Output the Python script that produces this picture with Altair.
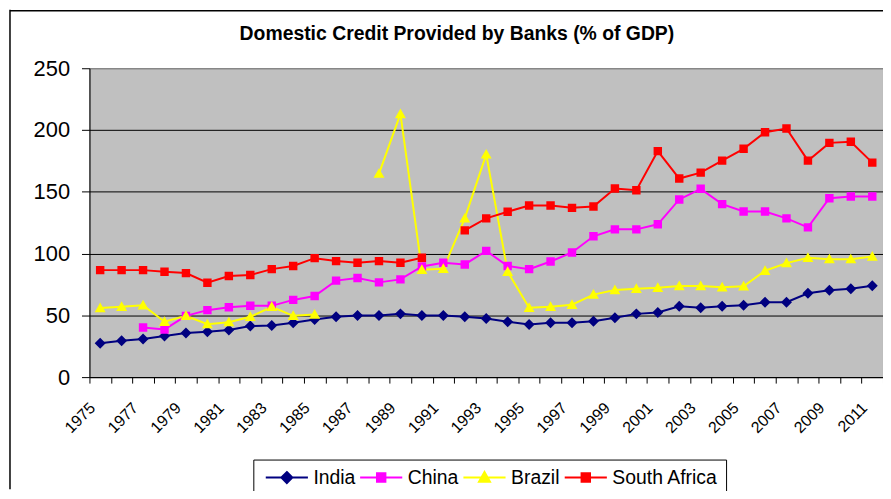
import altair as alt
import pandas as pd

years = list(range(1975, 2012))
countries = ["India", "China", "Brazil", "South Africa"]
colors = ["#000080", "#FF00FF", "#FFFF00", "#FF0000"]
title_text = "Domestic Credit Provided by Banks (% of GDP)"

india = [27.4, 29.5, 30.8, 33.3, 35.7, 36.7, 38.1, 41.3, 41.8, 44.0,
         46.7, 48.8, 49.9, 49.9, 51.2, 49.9, 49.9, 48.8, 47.5, 44.8,
         42.6, 44.0, 44.0, 45.3, 48.0, 51.2, 52.3, 57.4, 56.1, 57.4,
         58.2, 60.6, 60.6, 67.9, 70.3, 71.6, 74.0]
china = [None, None, 40.2, 38.6, 49.6, 54.2, 56.6, 57.7, 57.7, 62.5,
         65.7, 78.1, 80.2, 76.7, 79.1, 89.6, 92.5, 91.2, 102.2, 89.9,
         87.4, 93.6, 100.9, 114.0, 119.6, 119.6, 123.7, 143.8, 152.4, 140.0,
         134.1, 134.1, 128.5, 121.2, 144.8, 146.2, 146.2]
brazil = [56.0, 56.9, 58.2, 44.8, 49.6, 42.9, 44.5, 48.8, 56.9, 49.6,
          50.7, None, None, 164.7, 213.0, 86.9, 87.7, 128.5, 180.3, 85.3,
          56.1, 56.9, 58.6, 66.8, 70.5, 71.6, 72.4, 73.8, 73.8, 72.7,
          73.5, 86.1, 92.3, 96.6, 95.5, 95.5, 97.6]
south_africa = [86.6, 86.6, 86.6, 85.3, 84.2, 76.4, 81.8, 82.6, 87.4, 89.9,
                96.3, 93.9, 92.5, 93.9, 92.5, 96.6, None, 118.8, 128.5, 133.9,
                138.9, 138.9, 137.0, 138.1, 152.6, 151.3, 182.9, 160.7, 165.5, 175.2,
                184.8, 198.2, 201.2, 175.2, 189.6, 190.5, 173.6]

series = {"India": india, "China": china, "Brazil": brazil, "South Africa": south_africa}
rows = []
for c in countries:
    for y, v in zip(years, series[c]):
        rows.append({"year": y, "country": c, "value": v})
df = pd.DataFrame(rows)

shapes = [
    "M-5,0H5M0,-1.3L1.3,0L0,1.3L-1.3,0Z",
    "M-5,0H5M-1,-1H1V1H-1Z",
    "M-5,0H5M0,-1.3L1.3,1H-1.3Z",
    "M-5,0H5M-1,-1H1V1H-1Z",
]

FONT = "Liberation Sans"

x_enc = alt.X(
    "year:O",
    scale=alt.Scale(paddingInner=0, paddingOuter=0),
    axis=alt.Axis(
        title=None,
        tickBand="extent",
        labelExpr="datum.value % 2 == 1 ? datum.label : ''",
        labelAngle=-45,
        labelAlign="right",
        labelBaseline="middle",
        labelFont=FONT,
        labelFontSize=16,
        labelColor="black",
        labelPadding=22,
        labelOffset=-8,
        tickColor="black",
        tickSize=6,
        domainColor="black",
        grid=False,
        labelOverlap=False,
    ),
)
y_enc = alt.Y(
    "value:Q",
    scale=alt.Scale(domain=[0, 250], nice=False),
    axis=alt.Axis(
        title=None,
        values=[0, 50, 100, 150, 200, 250],
        labelFont=FONT,
        labelFontSize=22,
        labelColor="black",
        labelPadding=12,
        tickColor="black",
        tickSize=8,
        domainColor="black",
        grid=True,
        gridColor={"condition": {"test": "datum.value == 250", "value": "#808080"}, "value": "black"},
        gridWidth=1,
    ),
)

# line colour scale lists the same mapping in reverse order so its (hidden) legend
# is not merged with the visible marker legend
lines = alt.Chart(df).mark_line(strokeWidth=2, invalid="break-paths-show-domains").encode(
    x=x_enc,
    y=y_enc,
    color=alt.Color("country:N", scale=alt.Scale(domain=countries[::-1], range=colors[::-1]), legend=None),
    detail="country:N",
)

leg = alt.Legend(
    title=None,
    orient="none",
    legendX=165,
    legendY=394,
    direction="horizontal",
    columns=4,
    labelFont=FONT,
    labelFontSize=19.5,
    labelColor="black",
    symbolSize=72,
    symbolStrokeWidth=2,
    symbolOffset=16,
    labelOffset=17,
    columnPadding=0,
    strokeColor="black",
    fillColor="white",
    padding=8,
)

points = alt.Chart(df).mark_point(filled=True, size=72, strokeWidth=0, opacity=1).encode(
    x=x_enc,
    y=y_enc,
    fill=alt.Fill("country:N", scale=alt.Scale(domain=countries, range=colors), legend=leg),
    stroke=alt.Stroke("country:N", scale=alt.Scale(domain=countries, range=colors), legend=leg),
    shape=alt.Shape("country:N", scale=alt.Scale(domain=countries, range=shapes), legend=leg),
).transform_filter("isValid(datum.value)")

one = pd.DataFrame({"t": [title_text]})
frame_left = alt.Chart(one).mark_rule(color="black", strokeWidth=1.5).encode(
    x=alt.value(-80), y=alt.value(-59), y2=alt.value(424)
)
frame_top = alt.Chart(one).mark_rule(color="black", strokeWidth=1.5).encode(
    x=alt.value(-80), x2=alt.value(799), y=alt.value(-58)
)
title = alt.Chart(one).mark_text(
    font=FONT, fontSize=19.5, fontWeight="bold", color="black", baseline="alphabetic", align="center"
).encode(text="t:N", x=alt.value(370), y=alt.value(-28))

chart = alt.layer(frame_left, frame_top, title, lines, points).properties(
    width=799,
    height=311,
    autosize=alt.AutoSizeParams(type="none"),
    padding={"left": 82, "top": 59, "right": 0, "bottom": 113},
).configure(background="white").configure_view(
    fill="#C0C0C0", stroke="#808080", strokeWidth=1
)

chart.save("out.html", embed_options={"renderer": "svg", "actions": False})
